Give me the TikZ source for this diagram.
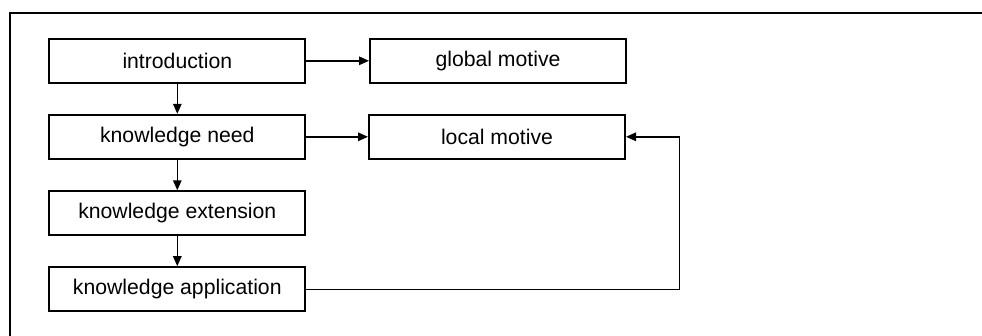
\documentclass[tikz,border=0pt]{standalone}
\usepackage{fontspec}
\setmainfont{Liberation Sans}
\usetikzlibrary{arrows.meta}
\begin{document}
\begin{tikzpicture}[x=1pt,y=-1pt,
  box/.style={draw, line width=2pt, rectangle, minimum width=256pt, minimum height=44pt, inner sep=0pt, font=\fontsize{21.2}{24}\selectfont},
  conn/.style={line width=1.4pt, -{Triangle[length=10pt,width=8.5pt]}}]
\useasboundingbox (0,0) rectangle (982,335);
\draw[line width=1.7pt] (10.3,336) -- (10.3,12.7) -- (983,12.7);
\node[box] (intro) at (177.3,60.8) {introduction};
\node[box] (global) at (498,60.8) {global motive};
\node[box] (need) at (177.3,136.8) {knowledge need};
\node[box] (local) at (497,136.8) {local motive};
\node[box] (ext) at (177.3,213.3) {knowledge extension};
\node[box] (app) at (177.3,289.2) {knowledge application};
\coordinate (c) at (679.3,289.2);
\draw[conn] (intro) -- (global);
\draw[conn] (need) -- (local);
\draw[conn] (intro) -- (need);
\draw[conn] (need) -- (ext);
\draw[conn] (ext) -- (app);
\draw[conn] (app.east) -- (c) |- (local.east);
\end{tikzpicture}
\end{document}
